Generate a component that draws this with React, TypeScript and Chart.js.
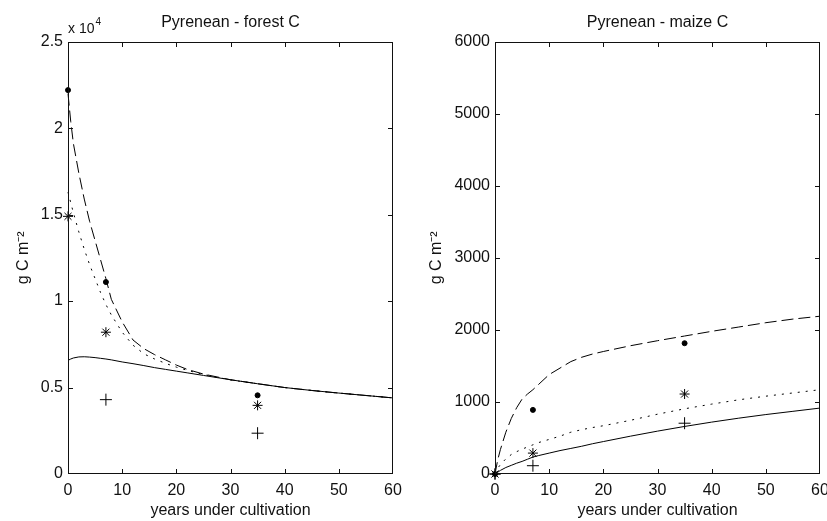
import React, { useEffect, useRef } from 'react';
import { Chart, registerables } from 'chart.js';

Chart.register(...registerables);

// ---------- data: Pyrenean - forest C ----------
const forestYears = [0, 0.5, 1, 2, 3, 4, 5, 6, 7, 8, 10, 12, 14, 16, 18, 20, 22, 25, 30, 35, 40, 45, 50, 55, 60];
const forestDashed = [22000, 20400, 19100, 17400, 15900, 14600, 13500, 12400, 11300, 10100, 8800, 7750, 7250, 6900, 6600, 6300, 6050, 5780, 5450, 5220, 5000, 4830, 4680, 4540, 4400];
const forestDotted = [16300, 15700, 15100, 14000, 13000, 12100, 11300, 10500, 9800, 9200, 8200, 7450, 6950, 6650, 6400, 6180, 6000, 5750, 5440, 5220, 5000, 4830, 4680, 4540, 4400];
const forestSolid = [6570, 6650, 6710, 6770, 6780, 6760, 6730, 6690, 6650, 6600, 6480, 6380, 6270, 6150, 6050, 5950, 5850, 5700, 5450, 5220, 5000, 4830, 4680, 4540, 4400];
const forestDotObsX = [0, 7, 35];
const forestDotObsY = [22200, 11100, 4550];
const forestStarObsX = [0, 7, 35];
const forestStarObsY = [14900, 8200, 3970];
const forestPlusObsX = [7, 35];
const forestPlusObsY = [4300, 2360];
const forestTickLabels = ['0', '0.5', '1', '1.5', '2', '2.5'];

// ---------- data: Pyrenean - maize C ----------
const maizeYears = [0, 0.5, 1, 2, 3, 4, 5, 6, 7, 8, 10, 12, 14, 16, 18, 20, 25, 30, 35, 40, 45, 50, 55, 60];
const maizeDashed = [0, 195, 340, 580, 770, 920, 1040, 1110, 1170, 1240, 1380, 1470, 1560, 1620, 1665, 1700, 1780, 1850, 1915, 1980, 2040, 2100, 2150, 2190];
const maizeDotted = [0, 80, 130, 210, 270, 310, 345, 375, 405, 435, 480, 525, 580, 615, 645, 670, 745, 830, 905, 970, 1030, 1080, 1125, 1170];
const maizeSolid = [0, 25, 50, 90, 120, 150, 175, 205, 235, 255, 290, 325, 355, 385, 420, 450, 525, 595, 660, 720, 775, 825, 870, 915];
const maizeDotObsX = [0, 7, 35];
const maizeDotObsY = [0, 890, 1815];
const maizeStarObsX = [0, 7, 35];
const maizeStarObsY = [0, 290, 1110];
const maizePlusObsX = [0, 7, 35];
const maizePlusObsY = [0, 115, 705];

const xTickLabels = ['0', '10', '20', '30', '40', '50', '60'];

const FONT = "'Liberation Sans', Arial, Helvetica, sans-serif";

const xy = (xs: number[], ys: number[]) => xs.map((x, i) => ({ x, y: ys[i] }));

const boxPlugin = {
  id: 'matlabBox',
  afterDraw(chart: any, _args: any, opts: any) {
    const { ctx, chartArea: a, scales } = chart;
    const L = Math.round(a.left);
    const R = Math.round(a.right) - 1;
    const T = Math.round(a.top);
    const B = Math.round(a.bottom) - 1;
    const len = 5;
    ctx.save();
    ctx.setLineDash([]);
    ctx.globalAlpha = 1;
    ctx.fillStyle = '#111';
    // box
    ctx.fillRect(L, T, R - L + 1, 1);
    ctx.fillRect(L, B, R - L + 1, 1);
    ctx.fillRect(L, T, 1, B - T + 1);
    ctx.fillRect(R, T, 1, B - T + 1);
    // inward ticks
    scales.x.ticks.forEach((t: any) => {
      let px = Math.round(scales.x.getPixelForValue(t.value));
      if (px > R) px = R;
      if (px < L) px = L;
      ctx.fillRect(px, B - len + 1, 1, len);
      ctx.fillRect(px, T, 1, len);
    });
    scales.y.ticks.forEach((t: any) => {
      let py = Math.round(scales.y.getPixelForValue(t.value));
      if (py > B) py = B;
      if (py < T) py = T;
      ctx.fillRect(L, py, len, 1);
      ctx.fillRect(R - len + 1, py, len, 1);
    });
    if (opts && opts.exponent) {
      ctx.textBaseline = 'alphabetic';
      ctx.textAlign = 'left';
      ctx.font = `14px ${FONT}`;
      const base = 'x 10';
      ctx.fillText(base, a.left, 33);
      const w = ctx.measureText(base).width;
      ctx.font = `10px ${FONT}`;
      ctx.fillText(opts.exponent, a.left + w + 1, 25);
    }
    ctx.restore();
  },
};

interface Panel {
  title: string;
  years: number[];
  dashed: number[];
  dotted: number[];
  solid: number[];
  dotX: number[]; dotY: number[];
  starX: number[]; starY: number[];
  plusX: number[]; plusY: number[];
  yMax: number;
  yStep: number;
  yLabels?: string[];
  exponent?: string;
  yAxisWidth: number;
  padRight: number;
}

function buildConfig(p: Panel): any {
  const line = (data: number[], dash: number[]) => ({
    type: 'scatter',
    data: xy(p.years, data),
    showLine: true,
    borderColor: '#000',
    borderWidth: 1,
    borderDash: dash,
    pointRadius: 0,
    fill: false,
    clip: false,
  });
  const marks = (xs: number[], ys: number[], style: string, r: number) => ({
    type: 'scatter',
    data: xy(xs, ys),
    showLine: false,
    pointStyle: style,
    pointRadius: r,
    pointBorderColor: '#000',
    pointBackgroundColor: '#000',
    pointBorderWidth: 1,
    clip: false,
  });
  return {
    type: 'scatter',
    data: {
      datasets: [
        line(p.solid, []),
        line(p.dotted, [2, 6]),
        line(p.dashed, [12, 5]),
        marks(p.dotX, p.dotY, 'circle', 2.5),
        marks(p.starX, p.starY, 'star', 5),
        marks(p.plusX, p.plusY, 'cross', 6),
      ],
    },
    options: {
      responsive: false,
      animation: false,
      events: [],
      layout: { padding: { left: 0, right: p.padRight, top: 0, bottom: 0 } },
      plugins: {
        legend: { display: false },
        tooltip: { enabled: false },
        title: {
          display: true,
          text: p.title,
          fullSize: false,
          color: '#111',
          font: { family: FONT, size: 16, weight: 'normal', lineHeight: 1.2 },
          padding: { top: 13, bottom: 9.5 },
        },
        matlabBox: { exponent: p.exponent },
      },
      scales: {
        x: {
          type: 'linear',
          min: 0,
          max: 60,
          grid: { display: false, drawTicks: false },
          border: { display: false },
          ticks: {
            stepSize: 10,
            autoSkip: false,
            maxRotation: 0,
            padding: 7,
            color: '#111',
            font: { family: FONT, size: 16 },
            callback: (_v: any, i: number) => xTickLabels[i],
          },
          title: {
            display: true,
            text: 'years under cultivation',
            color: '#111',
            font: { family: FONT, size: 16, lineHeight: 1.2 },
            padding: { top: 0, bottom: 1 },
          },
          afterFit: (s: any) => {
            s.height = 47;
            s.paddingLeft = 0;
            s.paddingRight = 0;
          },
        },
        y: {
          type: 'linear',
          min: 0,
          max: p.yMax,
          grid: { display: false, drawTicks: false },
          border: { display: false },
          ticks: {
            stepSize: p.yStep,
            autoSkip: false,
            padding: 5,
            color: '#111',
            font: { family: FONT, size: 16 },
            callback: (v: any, i: number) => (p.yLabels ? p.yLabels[i] : String(v)),
          },
          title: {
            display: true,
            text: 'g C m\u207B\u00B2',
            color: '#111',
            font: { family: FONT, size: 16, lineHeight: 1.2 },
            padding: { top: 14, bottom: 0 },
          },
          afterFit: (s: any) => {
            s.width = p.yAxisWidth;
            s.paddingTop = 0;
            s.paddingBottom = 0;
          },
        },
      },
    },
    plugins: [boxPlugin],
  };
}

const forestPanel: Panel = {
  title: 'Pyrenean - forest C',
  years: forestYears,
  dashed: forestDashed,
  dotted: forestDotted,
  solid: forestSolid,
  dotX: forestDotObsX, dotY: forestDotObsY,
  starX: forestStarObsX, starY: forestStarObsY,
  plusX: forestPlusObsX, plusY: forestPlusObsY,
  yMax: 25000,
  yStep: 5000,
  yLabels: forestTickLabels,
  exponent: '4',
  yAxisWidth: 68,
  padRight: 20,
};

const maizePanel: Panel = {
  title: 'Pyrenean - maize C',
  years: maizeYears,
  dashed: maizeDashed,
  dotted: maizeDotted,
  solid: maizeSolid,
  dotX: maizeDotObsX, dotY: maizeDotObsY,
  starX: maizeStarObsX, starY: maizeStarObsY,
  plusX: maizePlusObsX, plusY: maizePlusObsY,
  yMax: 6000,
  yStep: 1000,
  yAxisWidth: 82,
  padRight: 7,
};

function PanelChart({ panel, left, width }: { panel: Panel; left: number; width: number }) {
  const ref = useRef<HTMLCanvasElement>(null);
  useEffect(() => {
    if (!ref.current) return;
    const chart = new Chart(ref.current, buildConfig(panel));
    return () => chart.destroy();
  }, [panel]);
  return (
    <canvas
      ref={ref}
      width={width}
      height={521}
      style={{ position: 'absolute', left, top: 0, width, height: 521 }}
    />
  );
}

export default function App() {
  return (
    <div style={{ position: 'absolute', left: 0, top: 0, width: 827, height: 521, background: '#fff' }}>
      <PanelChart panel={forestPanel} left={0} width={413} />
      <PanelChart panel={maizePanel} left={413} width={414} />
    </div>
  );
}
